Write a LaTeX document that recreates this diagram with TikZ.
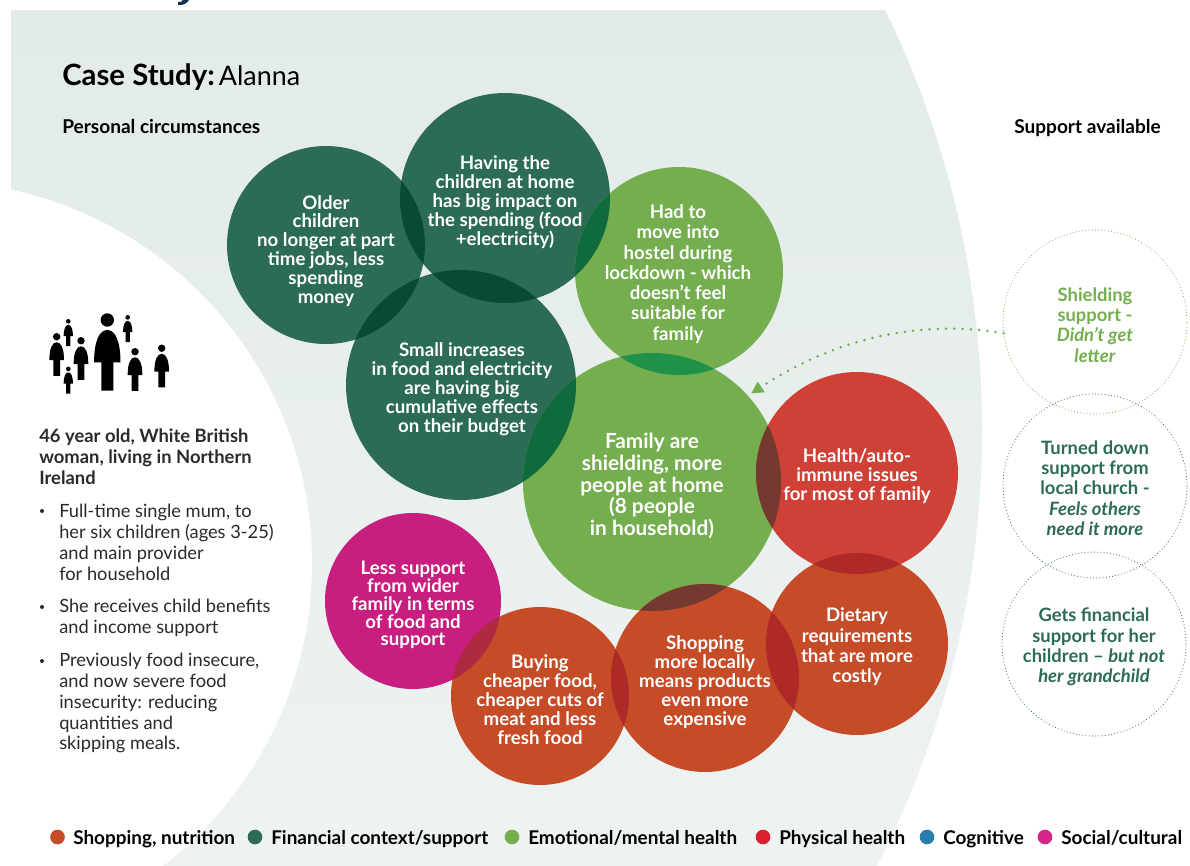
\documentclass[tikz,border=0pt]{standalone}
\usepackage{fontspec}
\setmainfont{Lato}
\usetikzlibrary{arrows.meta}
\definecolor{palebg}{HTML}{E2EBE9}
\definecolor{palebot}{HTML}{EEF3F2}
\definecolor{navy}{HTML}{12304F}
\definecolor{darkgreen}{HTML}{2C6B54}
\definecolor{midgreen}{HTML}{74AE4F}
\definecolor{redfill}{HTML}{CF4037}
\definecolor{orangefill}{HTML}{C64B27}
\definecolor{magentafill}{HTML}{C81E7F}
\definecolor{bodygrey}{HTML}{2A2A2A}
\definecolor{darklens}{HTML}{0A4A35}
\definecolor{greenlens}{HTML}{0F6B3B}
\definecolor{paleleaf}{HTML}{1F9148}
\definecolor{brownlens}{HTML}{74392F}
\definecolor{rustlens}{HTML}{AD2A28}
\definecolor{wine}{HTML}{AE2A40}
\definecolor{legendred}{HTML}{DB1F2E}
\definecolor{legendblue}{HTML}{2A7DAE}
\definecolor{legendpink}{HTML}{D6258A}
\newcommand{\lens}[5]{\begin{scope}\clip(#1)circle(#2);\fill[#5](#3)circle(#4);\end{scope}}
\newcommand{\person}[3]{\begin{scope}[shift={(#1,#2)},scale=#3]
    \fill[black](0,6.7)circle(6.7);
    \fill[black](-13.2,49)..controls(-13.2,28)and(-8,16.7)..(0,16.7)..controls(8,16.7)and(13.2,28)..(13.2,49)--(6,49)--(6,77.4)--(-6,77.4)--(-6,49)--cycle;
\end{scope}}
\tikzset{
    bubble/.style={circle,fill=#1,inner sep=0pt,outer sep=0pt},
    ring/.style={circle,draw=#1,inner sep=0pt,outer sep=0pt,line width=0.8pt,line cap=round,dash pattern=on 0pt off 2.4pt},
    bubbletext/.style={align=center,text=white,font=\bfseries\fontsize{14}{14.2}\selectfont},
    ringtext/.style={align=center,text=#1,font=\bfseries\fontsize{13.8}{15.2}\selectfont},
    bodytext/.style={anchor=north west,align=left,inner sep=0pt,text=bodygrey,font=\fontsize{13.7}{15.6}\selectfont},
    dotmark/.style={circle,fill=#1,inner sep=0pt,minimum size=11pt},
    legendtext/.style={anchor=base west,inner sep=0pt,text=black,font=\bfseries\fontsize{14.2}{15}\selectfont},
}
\begin{document}
\begin{tikzpicture}[x=0.75pt,y=-0.75pt]
    \useasboundingbox(0,0)rectangle(1190,865);
    \fill[white](0,0)rectangle(1190,865);
    \begin{scope}
        \clip(11,10)rectangle(1190,865);
        \clip(27,430)circle(955);
        \shade[top color=palebg,bottom color=palebot](0,0)rectangle(1190,865);
    \end{scope}
    \fill[white](-70,563)circle(382);
    \fill[navy](178,2)--(178,5)..controls(184,5.5)and(187,3)..(189,0)--(183,0)..controls(182,2)and(180,2.5)..cycle;

    \node[bubble=darkgreen,minimum size=198*0.75pt](older)at(326,245){};
    \node[bubble=darkgreen,minimum size=210*0.75pt](having)at(505,198){};
    \node[bubble=midgreen,minimum size=208*0.75pt](hadto)at(679,271){};
    \node[bubble=darkgreen,minimum size=230*0.75pt](small)at(461,385){};
    \node[bubble=midgreen,minimum size=258*0.75pt](family)at(652,482){};
    \node[bubble=redfill,minimum size=202*0.75pt](health)at(857,473){};
    \node[bubble=orangefill,minimum size=182*0.75pt](dietary)at(857,644){};
    \node[bubble=orangefill,minimum size=188*0.75pt](shopping)at(705,678){};
    \node[bubble=orangefill,minimum size=178*0.75pt](buying)at(540,696){};
    \node[bubble=magentafill,minimum size=176*0.75pt](less)at(413,601){};

    \lens{older}{99}{having}{105}{darklens}
    \lens{older}{99}{small}{115}{darklens}
    \lens{having}{105}{small}{115}{darklens}
    \lens{having}{105}{hadto}{104}{greenlens}
    \lens{hadto}{104}{family}{129}{paleleaf}
    \lens{small}{115}{family}{129}{greenlens}
    \lens{family}{129}{health}{101}{brownlens}
    \lens{family}{129}{shopping}{94}{brownlens}
    \lens{health}{101}{dietary}{91}{rustlens}
    \lens{shopping}{94}{dietary}{91}{rustlens}
    \lens{buying}{89}{shopping}{94}{rustlens}
    \lens{less}{88}{buying}{89}{wine}

    \node[bubbletext](oldertext)at(326,251){Older\\children\\no longer at part\\time jobs, less\\spending\\money};
    \node[bubbletext](havingtext)at(505,202){Having the\\children at home\\has big impact on\\the spending (food\\+electricity)};
    \node[bubbletext,font=\bfseries\fontsize{14}{15.2}\selectfont](hadtotext)at(678,274){Had to\\move into\\hostel during\\lockdown - which\\doesn't feel\\suitable for\\family};
    \node[bubbletext](smalltext)at(462,389){Small increases\\in food and electricity\\are having big\\cumulative effects\\on their budget};
    \node[bubbletext,font=\bfseries\fontsize{15.6}{16.3}\selectfont](familytext)at(652,486){Family are\\shielding, more\\people at home\\(8 people\\in household)};
    \node[bubbletext](healthtext)at(857,476){Health/auto-\\immune issues\\for most of family};
    \node[bubbletext,font=\bfseries\fontsize{14}{15.2}\selectfont](dietarytext)at(857,647){Dietary\\requirements\\that are more\\costly};
    \node[bubbletext](shoppingtext)at(705,682){Shopping\\more locally\\means products\\even more\\expensive};
    \node[bubbletext](buyingtext)at(540,700){Buying\\cheaper food,\\cheaper cuts of\\meat and less\\fresh food};
    \node[bubbletext,font=\bfseries\fontsize{14}{13.4}\selectfont](lesstext)at(413,605){Less support\\from wider\\family in terms\\of food and\\support};

    \node[ring=midgreen,minimum size=184*0.75pt](shielding)at(1095,322){};
    \node[ring=darkgreen,minimum size=184*0.75pt](turned)at(1095,486){};
    \node[ring=darkgreen,minimum size=184*0.75pt](gets)at(1094,644){};
    \node[ringtext=midgreen](shieldingtext)at(1095,325){Shielding\\support -\\\textit{Didn't get}\\\textit{letter}};
    \node[ringtext=darkgreen](turnedtext)at(1095,488){Turned down\\support from\\local church -\\\textit{Feels others}\\\textit{need it more}};
    \node[ringtext=darkgreen](getstext)at(1094,647){Gets financial\\support for her\\children -- \textit{but not}\\\textit{her grandchild}};
    \draw[midgreen,line width=2.1pt,line cap=round,dash pattern=on 0pt off 6.2pt,shorten >=3pt,-{Triangle[length=9pt,width=9pt]}](shielding.187)..controls(925,320)and(840,335)..(family.42);

    \node[anchor=base west,inner sep=0pt,text=black](title)at(62,85){\fontsize{22}{24}\selectfont\textbf{Case Study:}\hspace{3pt}\fontsize{20.2}{24}\selectfont Alanna};
    \node[anchor=base west,inner sep=0pt,text=black,font=\bfseries\fontsize{14.3}{15}\selectfont](personal)at(62,133){Personal circumstances};
    \node[anchor=base west,inner sep=0pt,text=black,font=\bfseries\fontsize{14.3}{15}\selectfont](available)at(1014,133){Support available};

    \person{107.3}{313.3}{1}
    \person{56.7}{333}{0.555}
    \person{81}{337}{0.555}
    \person{135}{348}{0.555}
    \person{161.7}{344.5}{0.555}
    \person{68.3}{319}{0.35}
    \person{127.7}{315}{0.35}
    \person{68.3}{366.5}{0.35}

    \node[bodytext,font=\bfseries\fontsize{13.8}{15.4}\selectfont](about)at(39,429){46 year old, White British\\woman, living in Northern\\Ireland};
    \node[bodytext](full)at(59,504){Full-time single mum, to\\her six children (ages 3-25)\\and main provider\\for household};
    \node[bodytext](receives)at(59,599){She receives child benefits\\and income support};
    \node[bodytext](previously)at(59,653){Previously food insecure,\\and now severe food\\insecurity: reducing\\quantities and\\skipping meals.};
    \node[circle,fill=bodygrey,inner sep=0pt,minimum size=3pt](bulletone)at(42,511){};
    \node[circle,fill=bodygrey,inner sep=0pt,minimum size=3pt](bullettwo)at(42,607){};
    \node[circle,fill=bodygrey,inner sep=0pt,minimum size=3pt](bulletthree)at(42,661){};

    \node[dotmark=orangefill](dotshop)at(57.5,837){};
    \node[legendtext](legshop)at(73,844){Shopping, nutrition};
    \node[dotmark=darkgreen](dotfin)at(255,837){};
    \node[legendtext](legfin)at(271,844){Financial context/support};
    \node[dotmark=midgreen](dotemo)at(512,837){};
    \node[legendtext](legemo)at(528,844){Emotional/mental health};
    \node[dotmark=legendred](dotphy)at(763,837){};
    \node[legendtext](legphy)at(779,844){Physical health};
    \node[dotmark=legendblue](dotcog)at(927,837){};
    \node[legendtext](legcog)at(943,844){Cognitive};
    \node[dotmark=legendpink](dotsoc)at(1045,837){};
    \node[legendtext](legsoc)at(1061,844){Social/cultural};
\end{tikzpicture}
\end{document}
